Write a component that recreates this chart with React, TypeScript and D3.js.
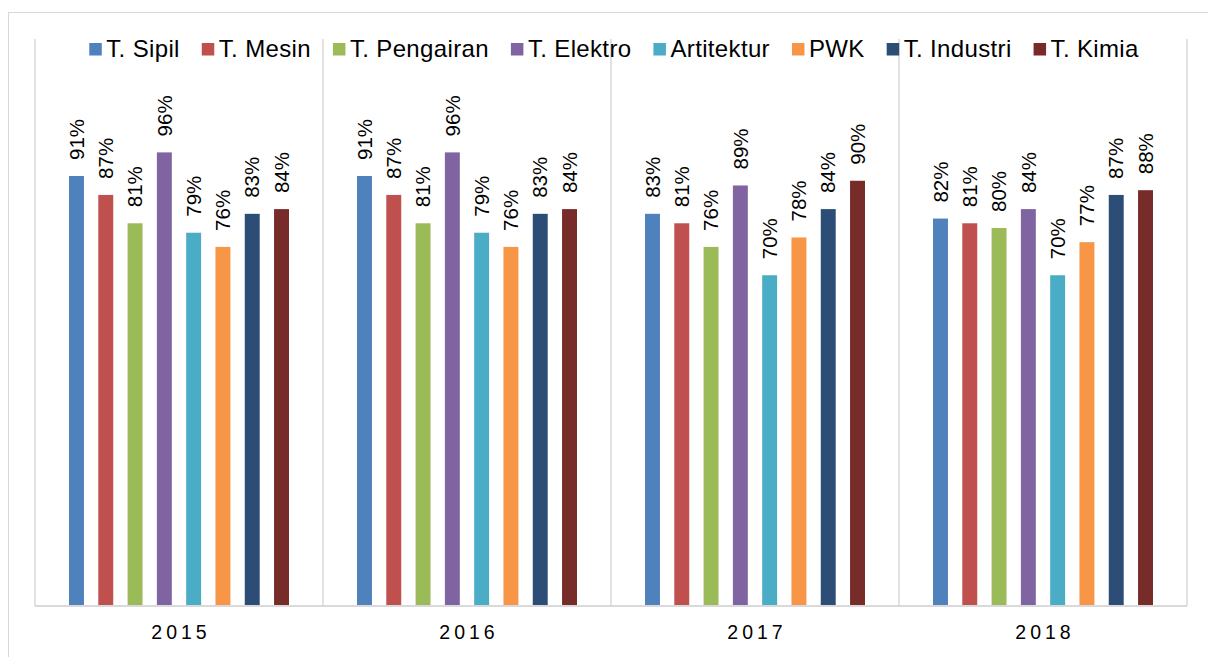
import React, { useEffect, useRef } from "react";
import * as d3 from "d3";

const years = ["2015", "2016", "2017", "2018"];
const programs = [
  "T. Sipil",
  "T. Mesin",
  "T. Pengairan",
  "T. Elektro",
  "Artitektur",
  "PWK",
  "T. Industri",
  "T. Kimia",
];
const colors = [
  "#4F81BD",
  "#C0504D",
  "#9BBB59",
  "#8064A2",
  "#4BACC6",
  "#F79646",
  "#2C4D75",
  "#772C2A",
];
const values2015 = [91, 87, 81, 96, 79, 76, 83, 84];
const values2016 = [91, 87, 81, 96, 79, 76, 83, 84];
const values2017 = [83, 81, 76, 89, 70, 78, 84, 90];
const values2018 = [82, 81, 80, 84, 70, 77, 87, 88];
const valuesByYear = [values2015, values2016, values2017, values2018];

const W = 1208;
const H = 657;
const FONT = "'Liberation Sans', Arial, sans-serif";

export default function App() {
  const ref = useRef<SVGSVGElement | null>(null);

  useEffect(() => {
    const svg = d3.select(ref.current);
    svg.selectAll("*").remove();

    const left = 35,
      right = 1187,
      top = 39,
      bottom = 606;

    // outer frame
    svg
      .append("rect")
      .attr("x", 8.5)
      .attr("y", 12.5)
      .attr("width", 1220)
      .attr("height", 700)
      .attr("fill", "white")
      .attr("stroke", "#d9d9d9")
      .attr("stroke-width", 1);

    const x0 = d3.scaleBand().domain(years).range([left, right]).padding(0);
    const y = d3.scaleLinear().domain([0, 120]).range([bottom, top]);
    const catW = x0.bandwidth();
    const x1 = d3
      .scaleBand()
      .domain(programs)
      .range([34, catW - 34])
      .paddingInner(0.49)
      .paddingOuter(0);

    // vertical grid lines (category separators)
    const seps = [...years.map((yr) => x0(yr) as number), right];
    svg
      .append("g")
      .selectAll("line")
      .data(seps)
      .join("line")
      .attr("x1", (d) => d)
      .attr("x2", (d) => d)
      .attr("y1", top)
      .attr("y2", bottom)
      .attr("stroke", "#d9d9d9")
      .attr("stroke-width", 1.5);

    // bars
    const g = svg.append("g");
    years.forEach((yr, yi) => {
      const gy = g.append("g").attr("transform", `translate(${x0(yr)},0)`);
      const vals = valuesByYear[yi];
      gy.selectAll("rect")
        .data(vals)
        .join("rect")
        .attr("x", (_d, i) => x1(programs[i]) as number)
        .attr("y", (d) => y(d))
        .attr("width", x1.bandwidth())
        .attr("height", (d) => bottom - y(d))
        .attr("fill", (_d, i) => colors[i]);
      gy.selectAll("text")
        .data(vals)
        .join("text")
        .attr("transform", (d, i) => {
          const cx = (x1(programs[i]) as number) + x1.bandwidth() / 2;
          return `translate(${cx},${y(d) - 16}) rotate(-90)`;
        })
        .attr("dy", "0.35em")
        .attr("text-anchor", "start")
        .attr("font-family", FONT)
        .attr("font-size", 20.5)
        .attr("fill", "#000")
        .text((d) => `${d}%`);
    });

    // baseline
    svg
      .append("line")
      .attr("x1", left)
      .attr("x2", right)
      .attr("y1", bottom)
      .attr("y2", bottom)
      .attr("stroke", "#d9d9d9")
      .attr("stroke-width", 2);

    // year labels
    svg
      .append("g")
      .selectAll("text")
      .data(years)
      .join("text")
      .attr("x", (d) => (x0(d) as number) + catW / 2 + 2)
      .attr("y", 639)
      .attr("text-anchor", "middle")
      .attr("font-family", FONT)
      .attr("font-size", 19.5)
      .attr("letter-spacing", 4)
      .attr("fill", "#000")
      .text((d) => d);

    // legend
    const lg = svg.append("g");
    const items = lg
      .selectAll("g")
      .data(programs)
      .join("g");
    items
      .append("rect")
      .attr("width", 12.5)
      .attr("height", 12.5)
      .attr("y", 43)
      .attr("fill", (_d, i) => colors[i]);
    items
      .append("text")
      .attr("x", 17)
      .attr("y", 57)
      .attr("font-family", FONT)
      .attr("font-size", 24)
      .attr("letter-spacing", 0.35)
      .attr("fill", "#000")
      .text((d) => d);
    const widths: number[] = [];
    items.each(function () {
      const t = d3.select(this).select("text").node() as SVGTextElement;
      widths.push(17 + t.getComputedTextLength());
    });
    const gap = 22;
    const total = widths.reduce((a, b) => a + b, 0) + gap * (widths.length - 1);
    let cur = 614 - total / 2;
    items.attr("transform", (_d, i) => {
      const tx = cur;
      cur += widths[i] + gap;
      return `translate(${tx},0)`;
    });
  }, []);

  return (
    <svg
      ref={ref}
      width={W}
      height={H}
      style={{ position: "absolute", left: 0, top: 0, background: "white" }}
    />
  );
}
